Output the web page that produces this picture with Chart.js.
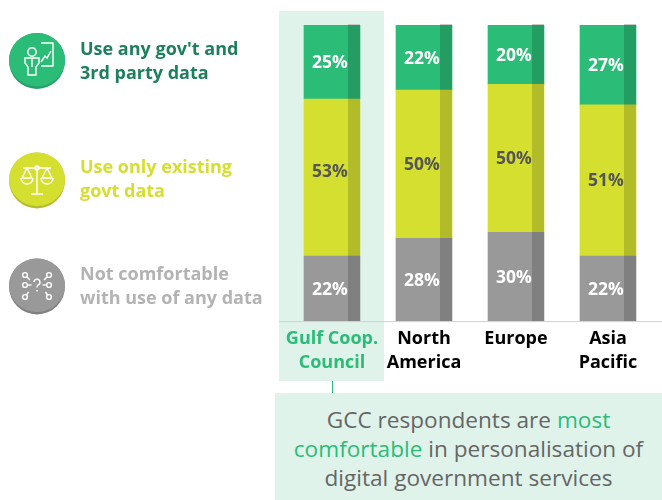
<!DOCTYPE html>
<html>
<head>
<meta charset="utf-8">
<title>Comfort with use of data</title>
<script src="https://cdn.jsdelivr.net/npm/chart.js@4"></script>
<style>
    html, body { margin: 0; padding: 0; background: #fff; overflow: hidden; }
    body { width: 662px; height: 500px; position: relative; font-family: "Open Sans", sans-serif; }
    #band { position: absolute; left: 279px; top: 11px; width: 105px; height: 370px; background: #dff3eb; }
    #stem { position: absolute; left: 332px; top: 381px; width: 1px; height: 12px; background: #2bbc77; }
    #note {
        position: absolute; left: 275px; top: 393px; width: 387px; height: 107px; background: #dff3eb;
        color: #666; font-size: 22.6px; line-height: 29px; text-align: center; padding-top: 12px; box-sizing: border-box;
    }
    #note b { font-weight: 400; color: #2bbc77; }
    #chart-wrap { position: absolute; left: 0; top: 0; width: 662px; height: 500px; }
    #icons { position: absolute; left: 0; top: 0; }
    .key { position: absolute; left: 80px; font-size: 18px; font-weight: 700; line-height: 24px; white-space: nowrap; }
</style>
</head>
<body>
<div id="band"></div>
<div id="stem"></div>
<div id="note">GCC respondents are <b>most</b><br><b>comfortable</b> in personalisation of<br>digital government services</div>
<div id="chart-wrap"><canvas id="grafico" width="662" height="500"></canvas></div>

<svg id="icons" width="280" height="320" fill="none" stroke="#fff" stroke-width="1.4">
    <circle cx="37" cy="61" r="28" fill="#239f66" stroke="none"/>
    <ellipse cx="37" cy="59.8" rx="28" ry="26.8" fill="#2bbc77" stroke="none"/>
    <circle cx="32" cy="52" r="4.2"/>
    <path d="M25 58h14v5l-3 4v8h-8v-8l-3-4z M32 58v9"/>
    <path d="M41 43h12v23h-12 M41 62l4-6 2 2 4-7"/>

    <circle cx="37" cy="180.5" r="28" fill="#b5bc2d" stroke="none"/>
    <ellipse cx="37" cy="179.3" rx="28" ry="26.8" fill="#d4df30" stroke="none"/>
    <path d="M23 168h28 M37 170v24 M31 194h12"/>
    <circle cx="37" cy="168" r="2"/>
    <path d="M27 168l-5 10h10z M21 178a6 6 0 0 0 12 0 M47 168l-5 10h10z M41 178a6 6 0 0 0 12 0"/>

    <circle cx="37" cy="286.5" r="28" fill="#808080" stroke="none"/>
    <ellipse cx="37" cy="285.3" rx="28" ry="26.8" fill="#999" stroke="none"/>
    <circle cx="25" cy="275" r="2.4"/><path d="M27 277l3 3"/>
    <circle cx="49" cy="275" r="2.4"/><path d="M47 277l-3 3"/>
    <circle cx="25" cy="285" r="2.4"/><path d="M27.5 285h4"/>
    <circle cx="49" cy="285" r="2.4"/><path d="M46.5 285h-4"/>
    <circle cx="25" cy="297" r="2.4"/><path d="M26.5 295l2-3"/>
    <circle cx="49" cy="297" r="2.4"/><path d="M47.5 295l-2-3"/>
    <path d="M34 282a3 3 0 1 1 4 3c-1 .6-1 1.2-1 2.5 M37 290v1.5"/>
</svg>

<div class="key" style="top:36px;color:#1e7f5c">Use any gov't and<br>3rd party data</div>
<div class="key" style="top:154px;color:#d4df30">Use only existing<br>govt data</div>
<div class="key" style="top:261px;color:#b3b3b3">Not comfortable<br>with use of any data</div>

<script>
const categories = [["Gulf Coop.", "Council"], ["North", "America"], ["Europe"], ["Asia", "Pacific"]];
const noData = [22, 28, 30, 22];
const existingData = [53, 50, 50, 51];
const anyData = [25, 22, 20, 27];

const green = "#2bbc77";
const labelFont = "700 17.5px 'Open Sans', sans-serif";

// darker strip down the right side of each bar, plus the percent labels
const barDetails = {
    id: "barDetails",
    beforeDatasetsDraw(chart) {
        // baseline runs past the plot on both sides
        const ctx = chart.ctx;
        const y = chart.scales.y.getPixelForValue(0);
        ctx.save();
        ctx.strokeStyle = "#d0d0d0";
        ctx.beginPath();
        ctx.moveTo(279, y + 0.5);
        ctx.lineTo(662, y + 0.5);
        ctx.stroke();
        ctx.restore();
    },
    afterDatasetsDraw(chart) {
        const ctx = chart.ctx;
        ctx.save();
        chart.data.datasets.forEach((ds, d) => {
            chart.getDatasetMeta(d).data.forEach((bar, i) => {
                const right = bar.x + bar.width / 2;
                ctx.fillStyle = "rgba(0,0,0,0.16)";
                ctx.fillRect(right - 12, bar.y, 12, bar.base - bar.y);
                if (d === 2) {
                    ctx.fillStyle = "#c8c8c8";
                    ctx.fillRect(right - 12, bar.y - 1, 12, 1);
                }
                ctx.fillStyle = ds.labelColor;
                ctx.font = labelFont;
                ctx.textAlign = "center";
                ctx.textBaseline = "middle";
                // the 53% sits a little above the middle of its bar
                const nudge = d === 1 && i === 0 ? -6 : 0;
                ctx.fillText(ds.data[i] + "%", bar.x - 2, (bar.y + bar.base) / 2 + 1 + nudge);
            });
        });
        ctx.restore();
    }
};

new Chart(document.getElementById("grafico"), {
    type: "bar",
    data: {
        labels: categories,
        datasets: [
            { label: "Not comfortable with use of any data", data: noData, backgroundColor: "#999999", labelColor: "#fff" },
            { label: "Use only existing govt data", data: existingData, backgroundColor: "#d4df30", labelColor: "#555" },
            { label: "Use any gov't and 3rd party data", data: anyData, backgroundColor: green, labelColor: "#fff" }
        ]
    },
    options: {
        responsive: false,
        animation: false,
        barThickness: 56,
        layout: { padding: { left: 286, right: 8, top: 25, bottom: 127 } },
        plugins: { legend: { display: false }, tooltip: { enabled: false } },
        scales: {
            x: {
                stacked: true,
                grid: { display: false },
                border: { display: false },
                ticks: {
                    maxRotation: 0,
                    autoSkip: false,
                    padding: -2,
                    color: c => c.index === 0 ? green : "#000",
                    font: { family: "'Open Sans', sans-serif", size: 18, weight: "700", lineHeight: 1.33 }
                }
            },
            y: { stacked: true, min: 0, max: 100, display: false }
        }
    },
    plugins: [barDetails]
});
</script>
</body>
</html>
